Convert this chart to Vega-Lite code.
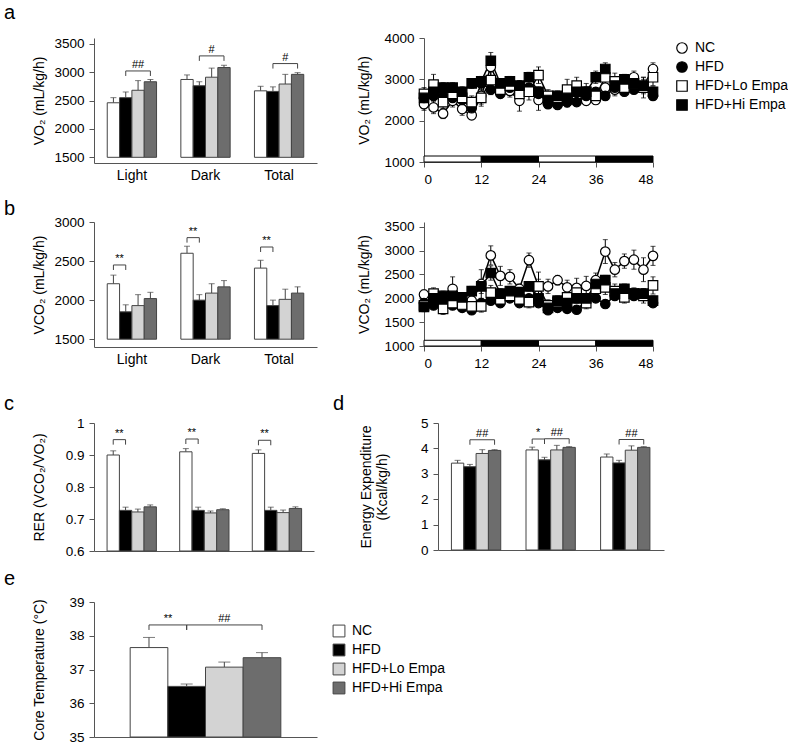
{
"$schema":"https://vega.github.io/schema/vega-lite/v6.json",
"padding":{"left":4,"top":3,"right":0,"bottom":0},
"config":{"font":"Liberation Sans","view":{"stroke":null},
"axis":{"grid":false,"domainColor":"#555","tickColor":"#555","labelColor":"#000","titleColor":"#000","labelFontSize":13.5,"titleFontSize":14,"titleFontWeight":"normal","tickSize":5,"labelPadding":5,"labelOverlap":false,"tickCount":12},
"text":{"color":"#000"},
"title":{"fontSize":20,"fontWeight":"normal","anchor":"start","frame":"bounds","color":"#000"}},
"resolve":{"scale":{"fill":"independent","shape":"independent","color":"independent","stroke":"independent"},"legend":{"fill":"independent","shape":"independent","color":"independent","stroke":"independent"}},
"datasets":{
"bars":[
{"p":"a","g":"Light","m":"NC","v":2460,"hi":2550},{"p":"a","g":"Light","m":"HFD","v":2550,"hi":2650},{"p":"a","g":"Light","m":"HFD+Lo Empa","v":2680,"hi":2850},{"p":"a","g":"Light","m":"HFD+Hi Empa","v":2830,"hi":2870},
{"p":"a","g":"Dark","m":"NC","v":2870,"hi":2950},{"p":"a","g":"Dark","m":"HFD","v":2760,"hi":2830},{"p":"a","g":"Dark","m":"HFD+Lo Empa","v":2910,"hi":3070},{"p":"a","g":"Dark","m":"HFD+Hi Empa","v":3080,"hi":3120},
{"p":"a","g":"Total","m":"NC","v":2670,"hi":2750},{"p":"a","g":"Total","m":"HFD","v":2660,"hi":2740},{"p":"a","g":"Total","m":"HFD+Lo Empa","v":2790,"hi":2960},{"p":"a","g":"Total","m":"HFD+Hi Empa","v":2960,"hi":2990},
{"p":"b","g":"Light","m":"NC","v":2210,"hi":2320},{"p":"b","g":"Light","m":"HFD","v":1850,"hi":1940},{"p":"b","g":"Light","m":"HFD+Lo Empa","v":1930,"hi":2070},{"p":"b","g":"Light","m":"HFD+Hi Empa","v":2020,"hi":2100},
{"p":"b","g":"Dark","m":"NC","v":2600,"hi":2690},{"p":"b","g":"Dark","m":"HFD","v":2000,"hi":2070},{"p":"b","g":"Dark","m":"HFD+Lo Empa","v":2090,"hi":2210},{"p":"b","g":"Dark","m":"HFD+Hi Empa","v":2170,"hi":2250},
{"p":"b","g":"Total","m":"NC","v":2410,"hi":2510},{"p":"b","g":"Total","m":"HFD","v":1930,"hi":2000},{"p":"b","g":"Total","m":"HFD+Lo Empa","v":2010,"hi":2140},{"p":"b","g":"Total","m":"HFD+Hi Empa","v":2090,"hi":2170},
{"p":"c","g":"Light","m":"NC","v":0.900,"hi":0.913},{"p":"c","g":"Light","m":"HFD","v":0.727,"hi":0.737},{"p":"c","g":"Light","m":"HFD+Lo Empa","v":0.722,"hi":0.731},{"p":"c","g":"Light","m":"HFD+Hi Empa","v":0.738,"hi":0.744},
{"p":"c","g":"Dark","m":"NC","v":0.910,"hi":0.920},{"p":"c","g":"Dark","m":"HFD","v":0.727,"hi":0.737},{"p":"c","g":"Dark","m":"HFD+Lo Empa","v":0.719,"hi":0.725},{"p":"c","g":"Dark","m":"HFD+Hi Empa","v":0.729,"hi":0.732},
{"p":"c","g":"Total","m":"NC","v":0.905,"hi":0.916},{"p":"c","g":"Total","m":"HFD","v":0.727,"hi":0.737},{"p":"c","g":"Total","m":"HFD+Lo Empa","v":0.720,"hi":0.728},{"p":"c","g":"Total","m":"HFD+Hi Empa","v":0.733,"hi":0.738},
{"p":"d","g":"Light","m":"NC","v":3.42,"hi":3.53},{"p":"d","g":"Light","m":"HFD","v":3.28,"hi":3.37},{"p":"d","g":"Light","m":"HFD+Lo Empa","v":3.80,"hi":3.95},{"p":"d","g":"Light","m":"HFD+Hi Empa","v":3.92,"hi":3.95},
{"p":"d","g":"Dark","m":"NC","v":3.94,"hi":4.05},{"p":"d","g":"Dark","m":"HFD","v":3.55,"hi":3.65},{"p":"d","g":"Dark","m":"HFD+Lo Empa","v":3.94,"hi":4.12},{"p":"d","g":"Dark","m":"HFD+Hi Empa","v":4.04,"hi":4.07},
{"p":"d","g":"Total","m":"NC","v":3.66,"hi":3.78},{"p":"d","g":"Total","m":"HFD","v":3.43,"hi":3.53},{"p":"d","g":"Total","m":"HFD+Lo Empa","v":3.93,"hi":4.10},{"p":"d","g":"Total","m":"HFD+Hi Empa","v":4.04,"hi":4.07}
],
"brk":[
{"p":"a","id":"a1","g":"Light","from":"HFD","to":"HFD+Hi Empa","y":3020,"label":"##"},
{"p":"a","id":"a2","g":"Dark","from":"HFD","to":"HFD+Hi Empa","y":3285,"label":"#"},
{"p":"a","id":"a3","g":"Total","from":"HFD","to":"HFD+Hi Empa","y":3150,"label":"#"},
{"p":"b","id":"b1","g":"Light","from":"NC","to":"HFD","y":2450,"label":"**"},
{"p":"b","id":"b2","g":"Dark","from":"NC","to":"HFD","y":2800,"label":"**"},
{"p":"b","id":"b3","g":"Total","from":"NC","to":"HFD","y":2680,"label":"**"},
{"p":"c","id":"c1","g":"Light","from":"NC","to":"HFD","y":0.948,"label":"**"},
{"p":"c","id":"c2","g":"Dark","from":"NC","to":"HFD","y":0.95,"label":"**"},
{"p":"c","id":"c3","g":"Total","from":"NC","to":"HFD","y":0.946,"label":"**"},
{"p":"d","id":"d1","g":"Light","from":"HFD","to":"HFD+Hi Empa","y":4.34,"label":"##"},
{"p":"d","id":"d2","g":"Dark","from":"NC","to":"HFD","y":4.37,"label":"*"},
{"p":"d","id":"d3","g":"Dark","from":"HFD","to":"HFD+Hi Empa","y":4.38,"label":"##"},
{"p":"d","id":"d4","g":"Total","from":"HFD","to":"HFD+Hi Empa","y":4.35,"label":"##"}
],
"ebars":[{"m":"NC","v":37.65,"hi":37.95},{"m":"HFD","v":36.5,"hi":36.57},{"m":"HFD+Lo Empa","v":37.07,"hi":37.22},{"m":"HFD+Hi Empa","v":37.35,"hi":37.5}],
"ebrk":[{"id":"e1","from":"NC","to":"HFD","y":38.32,"label":"**"},{"id":"e2","from":"HFD","to":"HFD+Hi Empa","y":38.32,"label":"##"}],
"strip":[{"start":0,"end":12,"ph":"L"},{"start":12,"end":24,"ph":"D"},{"start":24,"end":36,"ph":"L"},{"start":36,"end":48,"ph":"D"}],
"ts":[
{"p":"a","s":"NC","t":0,"v":2400,"e":150},{"p":"a","s":"NC","t":2,"v":2320,"e":150},{"p":"a","s":"NC","t":4,"v":2170,"e":120},{"p":"a","s":"NC","t":6,"v":2480,"e":150},{"p":"a","s":"NC","t":8,"v":2280,"e":150},{"p":"a","s":"NC","t":10,"v":2130,"e":100},{"p":"a","s":"NC","t":12,"v":2600,"e":200},{"p":"a","s":"NC","t":14,"v":3300,"e":250},{"p":"a","s":"NC","t":16,"v":2800,"e":150},{"p":"a","s":"NC","t":18,"v":2720,"e":150},{"p":"a","s":"NC","t":20,"v":2480,"e":250},{"p":"a","s":"NC","t":22,"v":2900,"e":150},{"p":"a","s":"NC","t":24,"v":2500,"e":250},{"p":"a","s":"NC","t":26,"v":2450,"e":100},{"p":"a","s":"NC","t":28,"v":2380,"e":100},{"p":"a","s":"NC","t":30,"v":2450,"e":120},{"p":"a","s":"NC","t":32,"v":2600,"e":150},{"p":"a","s":"NC","t":34,"v":2480,"e":100},{"p":"a","s":"NC","t":36,"v":2500,"e":100},{"p":"a","s":"NC","t":38,"v":2800,"e":200},{"p":"a","s":"NC","t":40,"v":2750,"e":150},{"p":"a","s":"NC","t":42,"v":2820,"e":150},{"p":"a","s":"NC","t":44,"v":3050,"e":150},{"p":"a","s":"NC","t":46,"v":2850,"e":200},{"p":"a","s":"NC","t":48,"v":3250,"e":150},
{"p":"a","s":"HFD","t":0,"v":2550,"e":100},{"p":"a","s":"HFD","t":2,"v":2600,"e":100},{"p":"a","s":"HFD","t":4,"v":2600,"e":100},{"p":"a","s":"HFD","t":6,"v":2550,"e":100},{"p":"a","s":"HFD","t":8,"v":2500,"e":100},{"p":"a","s":"HFD","t":10,"v":2300,"e":100},{"p":"a","s":"HFD","t":12,"v":2900,"e":100},{"p":"a","s":"HFD","t":14,"v":2750,"e":120},{"p":"a","s":"HFD","t":16,"v":2650,"e":100},{"p":"a","s":"HFD","t":18,"v":2800,"e":100},{"p":"a","s":"HFD","t":20,"v":2850,"e":100},{"p":"a","s":"HFD","t":22,"v":2800,"e":100},{"p":"a","s":"HFD","t":24,"v":2650,"e":100},{"p":"a","s":"HFD","t":26,"v":2400,"e":100},{"p":"a","s":"HFD","t":28,"v":2400,"e":100},{"p":"a","s":"HFD","t":30,"v":2450,"e":100},{"p":"a","s":"HFD","t":32,"v":2450,"e":100},{"p":"a","s":"HFD","t":34,"v":2600,"e":100},{"p":"a","s":"HFD","t":36,"v":2700,"e":100},{"p":"a","s":"HFD","t":38,"v":2600,"e":100},{"p":"a","s":"HFD","t":40,"v":2800,"e":100},{"p":"a","s":"HFD","t":42,"v":2700,"e":100},{"p":"a","s":"HFD","t":44,"v":2750,"e":100},{"p":"a","s":"HFD","t":46,"v":2800,"e":100},{"p":"a","s":"HFD","t":48,"v":2600,"e":100},
{"p":"a","s":"HFD+Lo Empa","t":0,"v":2650,"e":150},{"p":"a","s":"HFD+Lo Empa","t":2,"v":2870,"e":250},{"p":"a","s":"HFD+Lo Empa","t":4,"v":2450,"e":150},{"p":"a","s":"HFD+Lo Empa","t":6,"v":2650,"e":150},{"p":"a","s":"HFD+Lo Empa","t":8,"v":2550,"e":150},{"p":"a","s":"HFD+Lo Empa","t":10,"v":2450,"e":150},{"p":"a","s":"HFD+Lo Empa","t":12,"v":2550,"e":200},{"p":"a","s":"HFD+Lo Empa","t":14,"v":2980,"e":200},{"p":"a","s":"HFD+Lo Empa","t":16,"v":2750,"e":150},{"p":"a","s":"HFD+Lo Empa","t":18,"v":2850,"e":150},{"p":"a","s":"HFD+Lo Empa","t":20,"v":2650,"e":150},{"p":"a","s":"HFD+Lo Empa","t":22,"v":2700,"e":200},{"p":"a","s":"HFD+Lo Empa","t":24,"v":3100,"e":200},{"p":"a","s":"HFD+Lo Empa","t":26,"v":2600,"e":150},{"p":"a","s":"HFD+Lo Empa","t":28,"v":2550,"e":150},{"p":"a","s":"HFD+Lo Empa","t":30,"v":2750,"e":250},{"p":"a","s":"HFD+Lo Empa","t":32,"v":2850,"e":200},{"p":"a","s":"HFD+Lo Empa","t":34,"v":2700,"e":200},{"p":"a","s":"HFD+Lo Empa","t":36,"v":2600,"e":150},{"p":"a","s":"HFD+Lo Empa","t":38,"v":3050,"e":200},{"p":"a","s":"HFD+Lo Empa","t":40,"v":2950,"e":200},{"p":"a","s":"HFD+Lo Empa","t":42,"v":2800,"e":150},{"p":"a","s":"HFD+Lo Empa","t":44,"v":2900,"e":200},{"p":"a","s":"HFD+Lo Empa","t":46,"v":2800,"e":250},{"p":"a","s":"HFD+Lo Empa","t":48,"v":3050,"e":200},
{"p":"a","s":"HFD+Hi Empa","t":0,"v":2550,"e":120},{"p":"a","s":"HFD+Hi Empa","t":2,"v":2700,"e":120},{"p":"a","s":"HFD+Hi Empa","t":4,"v":2800,"e":120},{"p":"a","s":"HFD+Hi Empa","t":6,"v":2800,"e":120},{"p":"a","s":"HFD+Hi Empa","t":8,"v":2700,"e":120},{"p":"a","s":"HFD+Hi Empa","t":10,"v":2900,"e":120},{"p":"a","s":"HFD+Hi Empa","t":12,"v":2950,"e":120},{"p":"a","s":"HFD+Hi Empa","t":14,"v":3450,"e":200},{"p":"a","s":"HFD+Hi Empa","t":16,"v":2900,"e":120},{"p":"a","s":"HFD+Hi Empa","t":18,"v":2950,"e":120},{"p":"a","s":"HFD+Hi Empa","t":20,"v":2850,"e":120},{"p":"a","s":"HFD+Hi Empa","t":22,"v":3050,"e":120},{"p":"a","s":"HFD+Hi Empa","t":24,"v":2700,"e":120},{"p":"a","s":"HFD+Hi Empa","t":26,"v":2500,"e":120},{"p":"a","s":"HFD+Hi Empa","t":28,"v":2600,"e":120},{"p":"a","s":"HFD+Hi Empa","t":30,"v":2550,"e":120},{"p":"a","s":"HFD+Hi Empa","t":32,"v":2700,"e":120},{"p":"a","s":"HFD+Hi Empa","t":34,"v":2700,"e":120},{"p":"a","s":"HFD+Hi Empa","t":36,"v":3050,"e":150},{"p":"a","s":"HFD+Hi Empa","t":38,"v":3250,"e":150},{"p":"a","s":"HFD+Hi Empa","t":40,"v":2850,"e":120},{"p":"a","s":"HFD+Hi Empa","t":42,"v":3000,"e":120},{"p":"a","s":"HFD+Hi Empa","t":44,"v":2900,"e":120},{"p":"a","s":"HFD+Hi Empa","t":46,"v":2850,"e":150},{"p":"a","s":"HFD+Hi Empa","t":48,"v":2700,"e":120},
{"p":"b","s":"NC","t":0,"v":2080,"e":100},{"p":"b","s":"NC","t":2,"v":2000,"e":150},{"p":"b","s":"NC","t":4,"v":1920,"e":100},{"p":"b","s":"NC","t":6,"v":2200,"e":250},{"p":"b","s":"NC","t":8,"v":1900,"e":150},{"p":"b","s":"NC","t":10,"v":1950,"e":150},{"p":"b","s":"NC","t":12,"v":2300,"e":300},{"p":"b","s":"NC","t":14,"v":2900,"e":200},{"p":"b","s":"NC","t":16,"v":2470,"e":200},{"p":"b","s":"NC","t":18,"v":2450,"e":150},{"p":"b","s":"NC","t":20,"v":2200,"e":100},{"p":"b","s":"NC","t":22,"v":2800,"e":150},{"p":"b","s":"NC","t":24,"v":2250,"e":300},{"p":"b","s":"NC","t":26,"v":2250,"e":150},{"p":"b","s":"NC","t":28,"v":2380,"e":100},{"p":"b","s":"NC","t":30,"v":2230,"e":150},{"p":"b","s":"NC","t":32,"v":2220,"e":200},{"p":"b","s":"NC","t":34,"v":2260,"e":200},{"p":"b","s":"NC","t":36,"v":2380,"e":150},{"p":"b","s":"NC","t":38,"v":2980,"e":250},{"p":"b","s":"NC","t":40,"v":2600,"e":150},{"p":"b","s":"NC","t":42,"v":2780,"e":150},{"p":"b","s":"NC","t":44,"v":2810,"e":200},{"p":"b","s":"NC","t":46,"v":2600,"e":250},{"p":"b","s":"NC","t":48,"v":2890,"e":200},
{"p":"b","s":"HFD","t":0,"v":1900,"e":80},{"p":"b","s":"HFD","t":2,"v":1850,"e":80},{"p":"b","s":"HFD","t":4,"v":1900,"e":80},{"p":"b","s":"HFD","t":6,"v":1850,"e":80},{"p":"b","s":"HFD","t":8,"v":1800,"e":80},{"p":"b","s":"HFD","t":10,"v":1750,"e":80},{"p":"b","s":"HFD","t":12,"v":1900,"e":80},{"p":"b","s":"HFD","t":14,"v":1950,"e":80},{"p":"b","s":"HFD","t":16,"v":1900,"e":80},{"p":"b","s":"HFD","t":18,"v":2000,"e":80},{"p":"b","s":"HFD","t":20,"v":1900,"e":80},{"p":"b","s":"HFD","t":22,"v":2000,"e":80},{"p":"b","s":"HFD","t":24,"v":1900,"e":80},{"p":"b","s":"HFD","t":26,"v":1750,"e":80},{"p":"b","s":"HFD","t":28,"v":1800,"e":80},{"p":"b","s":"HFD","t":30,"v":1780,"e":80},{"p":"b","s":"HFD","t":32,"v":1760,"e":80},{"p":"b","s":"HFD","t":34,"v":1950,"e":80},{"p":"b","s":"HFD","t":36,"v":2000,"e":80},{"p":"b","s":"HFD","t":38,"v":1880,"e":80},{"p":"b","s":"HFD","t":40,"v":2050,"e":80},{"p":"b","s":"HFD","t":42,"v":2100,"e":80},{"p":"b","s":"HFD","t":44,"v":2050,"e":80},{"p":"b","s":"HFD","t":46,"v":2050,"e":80},{"p":"b","s":"HFD","t":48,"v":1900,"e":80},
{"p":"b","s":"HFD+Lo Empa","t":0,"v":1850,"e":120},{"p":"b","s":"HFD+Lo Empa","t":2,"v":2100,"e":120},{"p":"b","s":"HFD+Lo Empa","t":4,"v":1780,"e":120},{"p":"b","s":"HFD+Lo Empa","t":6,"v":1900,"e":120},{"p":"b","s":"HFD+Lo Empa","t":8,"v":1870,"e":120},{"p":"b","s":"HFD+Lo Empa","t":10,"v":1830,"e":120},{"p":"b","s":"HFD+Lo Empa","t":12,"v":1830,"e":120},{"p":"b","s":"HFD+Lo Empa","t":14,"v":2120,"e":150},{"p":"b","s":"HFD+Lo Empa","t":16,"v":1980,"e":120},{"p":"b","s":"HFD+Lo Empa","t":18,"v":2050,"e":120},{"p":"b","s":"HFD+Lo Empa","t":20,"v":1980,"e":120},{"p":"b","s":"HFD+Lo Empa","t":22,"v":1920,"e":120},{"p":"b","s":"HFD+Lo Empa","t":24,"v":2250,"e":150},{"p":"b","s":"HFD+Lo Empa","t":26,"v":1850,"e":120},{"p":"b","s":"HFD+Lo Empa","t":28,"v":1920,"e":120},{"p":"b","s":"HFD+Lo Empa","t":30,"v":2020,"e":120},{"p":"b","s":"HFD+Lo Empa","t":32,"v":2120,"e":120},{"p":"b","s":"HFD+Lo Empa","t":34,"v":1900,"e":120},{"p":"b","s":"HFD+Lo Empa","t":36,"v":2200,"e":120},{"p":"b","s":"HFD+Lo Empa","t":38,"v":2230,"e":150},{"p":"b","s":"HFD+Lo Empa","t":40,"v":2150,"e":150},{"p":"b","s":"HFD+Lo Empa","t":42,"v":2020,"e":120},{"p":"b","s":"HFD+Lo Empa","t":44,"v":2100,"e":120},{"p":"b","s":"HFD+Lo Empa","t":46,"v":2050,"e":150},{"p":"b","s":"HFD+Lo Empa","t":48,"v":2270,"e":180},
{"p":"b","s":"HFD+Hi Empa","t":0,"v":1820,"e":100},{"p":"b","s":"HFD+Hi Empa","t":2,"v":2000,"e":100},{"p":"b","s":"HFD+Hi Empa","t":4,"v":2050,"e":100},{"p":"b","s":"HFD+Hi Empa","t":6,"v":2050,"e":100},{"p":"b","s":"HFD+Hi Empa","t":8,"v":2020,"e":100},{"p":"b","s":"HFD+Hi Empa","t":10,"v":2150,"e":100},{"p":"b","s":"HFD+Hi Empa","t":12,"v":2250,"e":150},{"p":"b","s":"HFD+Hi Empa","t":14,"v":2530,"e":150},{"p":"b","s":"HFD+Hi Empa","t":16,"v":2100,"e":100},{"p":"b","s":"HFD+Hi Empa","t":18,"v":2150,"e":100},{"p":"b","s":"HFD+Hi Empa","t":20,"v":2130,"e":100},{"p":"b","s":"HFD+Hi Empa","t":22,"v":2250,"e":100},{"p":"b","s":"HFD+Hi Empa","t":24,"v":2000,"e":100},{"p":"b","s":"HFD+Hi Empa","t":26,"v":1800,"e":100},{"p":"b","s":"HFD+Hi Empa","t":28,"v":1950,"e":100},{"p":"b","s":"HFD+Hi Empa","t":30,"v":1900,"e":100},{"p":"b","s":"HFD+Hi Empa","t":32,"v":2000,"e":100},{"p":"b","s":"HFD+Hi Empa","t":34,"v":2000,"e":100},{"p":"b","s":"HFD+Hi Empa","t":36,"v":2300,"e":100},{"p":"b","s":"HFD+Hi Empa","t":38,"v":2380,"e":100},{"p":"b","s":"HFD+Hi Empa","t":40,"v":2100,"e":100},{"p":"b","s":"HFD+Hi Empa","t":42,"v":2200,"e":100},{"p":"b","s":"HFD+Hi Empa","t":44,"v":2100,"e":100},{"p":"b","s":"HFD+Hi Empa","t":46,"v":2100,"e":100},{"p":"b","s":"HFD+Hi Empa","t":48,"v":1950,"e":100}
]},
"vconcat":[
{"resolve":{"scale":{"fill":"independent","shape":"independent","color":"independent","stroke":"independent"},"legend":{"fill":"independent","shape":"independent","color":"independent","stroke":"independent"}},
"vconcat":[
{"resolve":{"scale":{"fill":"independent","shape":"independent","color":"independent","stroke":"independent"},"legend":{"fill":"independent","shape":"independent","color":"independent","stroke":"independent"}},
"title":{"text":"a","offset":8,"dx":-28},"hconcat":[
{"width":223,"height":125,
"encoding":{"x":{"field":"g","type":"nominal","scale":{"domain":["Light","Dark","Total"],"paddingInner":0.33,"paddingOuter":0.18},"axis":{"title":null,"ticks":false,"labelAngle":0,"labelFontSize":14,"labelPadding":5}},
"xOffset":{"field":"m","type":"nominal","scale":{"domain":["NC","HFD","HFD+Lo Empa","HFD+Hi Empa"],"paddingInner":0,"paddingOuter":0}}},
"layer":[
{"data":{"name":"bars"},"transform":[{"filter":"datum.p==='a'"}],"mark":{"type":"rule","color":"#444"},"encoding":{"y":{"field":"v","type":"quantitative","scale":{"domain":[1500,3500],"zero":false},"axis":{"values":[1500,2000,2500,3000,3500],"tickCount":12,"format":"d","title":"VO₂ (mL/kg/h)","minExtent":42,"titlePadding":6,"labelOverlap":false}},"y2":{"field":"hi"}}},
{"data":{"name":"bars"},"transform":[{"filter":"datum.p==='a'"}],"mark":{"type":"tick","size":6,"thickness":1,"color":"#444"},"encoding":{"y":{"field":"hi","type":"quantitative"}}},
{"data":{"name":"bars"},"transform":[{"filter":"datum.p==='a'"}],"mark":{"type":"bar","stroke":"#444","strokeWidth":1},"encoding":{"y":{"field":"v","type":"quantitative"},"y2":{"datum":1500},"fill":{"field":"m","type":"nominal","scale":{"domain":["NC","HFD","HFD+Lo Empa","HFD+Hi Empa"],"range":["#ffffff","#000000","#d3d3d3","#6d6d6d"]},"legend":null}}},
{"data":{"name":"brk"},"transform":[{"filter":"datum.p==='a'"},{"fold":["from","to"],"as":["end","m"]}],"mark":{"type":"line","color":"#444","strokeWidth":1},"encoding":{"y":{"field":"y","type":"quantitative"},"detail":{"field":"id"}}},
{"data":{"name":"brk"},"transform":[{"filter":"datum.p==='a'"},{"fold":["from","to"],"as":["end","m"]}],"mark":{"type":"point","shape":"M0,0L0,1","size":100,"stroke":"#444","strokeWidth":1,"filled":false,"opacity":1},"encoding":{"y":{"field":"y","type":"quantitative"}}},
{"data":{"name":"brk"},"transform":[{"filter":"datum.p==='a' && datum.to!=='HFD'"}],"mark":{"type":"text","baseline":"bottom","dy":-1,"fontSize":11,"color":"#000"},"encoding":{"xOffset":{"datum":"HFD+Lo Empa"},"y":{"field":"y","type":"quantitative"},"text":{"field":"label"}}}
]},
{"width":229,"height":124,
"layer":[
{"data":{"name":"strip"},"mark":{"type":"rect","stroke":"#000","strokeWidth":1},"encoding":{"x":{"field":"start","type":"quantitative","scale":{"domain":[0,48],"nice":false},"axis":{"values":[0,12,24,36,48],"tickCount":12,"title":null}},"x2":{"field":"end"},"y":{"datum":1000,"type":"quantitative","scale":{"domain":[1000,4000]},"axis":{"values":[1000,2000,3000,4000],"tickCount":12,"format":"d","title":"VO₂ (mL/kg/h)","minExtent":42,"titlePadding":11,"labelOverlap":false}},"y2":{"datum":1145},"color":{"field":"ph","type":"nominal","scale":{"domain":["L","D"],"range":["#ffffff","#000000"]},"legend":null}}},
{"data":{"name":"ts"},"transform":[{"filter":"datum.p==='a'"}],"mark":{"type":"errorbar","ticks":true,"color":"#000"},"encoding":{"x":{"field":"t","type":"quantitative"},"y":{"field":"v","type":"quantitative","axis":{"title":"VO₂ (mL/kg/h)"}},"yError":{"field":"e"}}},
{"data":{"name":"ts"},"transform":[{"filter":"datum.p==='a'"}],"mark":{"type":"line","color":"#000","strokeWidth":1.5},"encoding":{"x":{"field":"t","type":"quantitative"},"y":{"field":"v","type":"quantitative"},"detail":{"field":"s"}}},
{"data":{"name":"ts"},"transform":[{"filter":"datum.p==='a'"}],"mark":{"type":"point","filled":true,"strokeWidth":1.2,"opacity":1,"size":90},"encoding":{"x":{"field":"t","type":"quantitative"},"y":{"field":"v","type":"quantitative"},
"shape":{"field":"s","type":"nominal","scale":{"domain":["NC","HFD","HFD+Lo Empa","HFD+Hi Empa"],"range":["circle","circle","square","square"]},"legend":{"title":null,"orient":"none","legendX":251,"legendY":3,"labelFontSize":14,"symbolSize":110,"symbolStrokeWidth":1.2,"rowPadding":3,"labelOffset":6}},
"fill":{"field":"s","type":"nominal","scale":{"domain":["NC","HFD","HFD+Lo Empa","HFD+Hi Empa"],"range":["#ffffff","#000000","#ffffff","#000000"]},"legend":{"title":null,"orient":"none","legendX":251,"legendY":3,"labelFontSize":14,"symbolSize":110,"symbolStrokeWidth":1.2,"rowPadding":3,"labelOffset":6}},
"stroke":{"field":"s","type":"nominal","scale":{"domain":["NC","HFD","HFD+Lo Empa","HFD+Hi Empa"],"range":["#000000","#000000","#000000","#000000"]},"legend":{"title":null,"orient":"none","legendX":251,"legendY":3,"labelFontSize":14,"symbolSize":110,"symbolStrokeWidth":1.2,"rowPadding":3,"labelOffset":6}}}}
]}
],"spacing":40},
{"resolve":{"scale":{"fill":"independent","shape":"independent","color":"independent","stroke":"independent"},"legend":{"fill":"independent","shape":"independent","color":"independent","stroke":"independent"}},
"title":{"text":"b","offset":-4,"dx":-28},"hconcat":[
{"width":223,"height":125,
"encoding":{"x":{"field":"g","type":"nominal","scale":{"domain":["Light","Dark","Total"],"paddingInner":0.33,"paddingOuter":0.18},"axis":{"title":null,"ticks":false,"labelAngle":0,"labelFontSize":14,"labelPadding":5}},
"xOffset":{"field":"m","type":"nominal","scale":{"domain":["NC","HFD","HFD+Lo Empa","HFD+Hi Empa"],"paddingInner":0,"paddingOuter":0}}},
"layer":[
{"data":{"name":"bars"},"transform":[{"filter":"datum.p==='b'"}],"mark":{"type":"rule","color":"#444"},"encoding":{"y":{"field":"v","type":"quantitative","scale":{"domain":[1500,3000],"zero":false},"axis":{"values":[1500,2000,2500,3000],"tickCount":12,"format":"d","title":"VCO₂ (mL/kg/h)","minExtent":42,"titlePadding":6,"labelOverlap":false}},"y2":{"field":"hi"}}},
{"data":{"name":"bars"},"transform":[{"filter":"datum.p==='b'"}],"mark":{"type":"tick","size":6,"thickness":1,"color":"#444"},"encoding":{"y":{"field":"hi","type":"quantitative"}}},
{"data":{"name":"bars"},"transform":[{"filter":"datum.p==='b'"}],"mark":{"type":"bar","stroke":"#444","strokeWidth":1},"encoding":{"y":{"field":"v","type":"quantitative"},"y2":{"datum":1500},"fill":{"field":"m","type":"nominal","scale":{"domain":["NC","HFD","HFD+Lo Empa","HFD+Hi Empa"],"range":["#ffffff","#000000","#d3d3d3","#6d6d6d"]},"legend":null}}},
{"data":{"name":"brk"},"transform":[{"filter":"datum.p==='b'"},{"fold":["from","to"],"as":["end","m"]}],"mark":{"type":"line","color":"#444","strokeWidth":1},"encoding":{"y":{"field":"y","type":"quantitative"},"detail":{"field":"id"}}},
{"data":{"name":"brk"},"transform":[{"filter":"datum.p==='b'"},{"fold":["from","to"],"as":["end","m"]}],"mark":{"type":"point","shape":"M0,0L0,1","size":100,"stroke":"#444","strokeWidth":1,"filled":false,"opacity":1},"encoding":{"y":{"field":"y","type":"quantitative"}}},
{"data":{"name":"brk"},"transform":[{"filter":"datum.p==='b' && datum.to==='HFD'"}],"mark":{"type":"text","baseline":"bottom","dy":-1,"dx":6,"fontSize":11,"color":"#000"},"encoding":{"xOffset":{"datum":"NC"},"y":{"field":"y","type":"quantitative"},"text":{"field":"label"}}}
]},
{"width":229,"height":124,
"layer":[
{"data":{"name":"strip"},"mark":{"type":"rect","stroke":"#000","strokeWidth":1},"encoding":{"x":{"field":"start","type":"quantitative","scale":{"domain":[0,48],"nice":false},"axis":{"values":[0,12,24,36,48],"tickCount":12,"title":null}},"x2":{"field":"end"},"y":{"datum":1000,"type":"quantitative","scale":{"domain":[1000,3500]},"axis":{"values":[1000,1500,2000,2500,3000,3500],"tickCount":12,"format":"d","title":"VCO₂ (mL/kg/h)","minExtent":42,"titlePadding":11,"labelOverlap":false}},"y2":{"datum":1120},"color":{"field":"ph","type":"nominal","scale":{"domain":["L","D"],"range":["#ffffff","#000000"]},"legend":null}}},
{"data":{"name":"ts"},"transform":[{"filter":"datum.p==='b'"}],"mark":{"type":"errorbar","ticks":true,"color":"#000"},"encoding":{"x":{"field":"t","type":"quantitative"},"y":{"field":"v","type":"quantitative","axis":{"title":"VCO₂ (mL/kg/h)"}},"yError":{"field":"e"}}},
{"data":{"name":"ts"},"transform":[{"filter":"datum.p==='b'"}],"mark":{"type":"line","color":"#000","strokeWidth":1.5},"encoding":{"x":{"field":"t","type":"quantitative"},"y":{"field":"v","type":"quantitative"},"detail":{"field":"s"}}},
{"data":{"name":"ts"},"transform":[{"filter":"datum.p==='b'"}],"mark":{"type":"point","filled":true,"stroke":"#000","strokeWidth":1.2,"opacity":1,"size":90},"encoding":{"x":{"field":"t","type":"quantitative"},"y":{"field":"v","type":"quantitative"},
"shape":{"field":"s","type":"nominal","scale":{"domain":["NC","HFD","HFD+Lo Empa","HFD+Hi Empa"],"range":["circle","circle","square","square"]},"legend":null},
"fill":{"field":"s","type":"nominal","scale":{"domain":["NC","HFD","HFD+Lo Empa","HFD+Hi Empa"],"range":["#ffffff","#000000","#ffffff","#000000"]},"legend":null}}}
]}
],"spacing":40}
],"spacing":13},
{"resolve":{"scale":{"fill":"independent","shape":"independent","color":"independent","stroke":"independent"},"legend":{"fill":"independent","shape":"independent","color":"independent","stroke":"independent"}},
"vconcat":[
{"resolve":{"scale":{"fill":"independent","shape":"independent","color":"independent","stroke":"independent"},"legend":{"fill":"independent","shape":"independent","color":"independent","stroke":"independent"}},
"hconcat":[
{"title":{"text":"c","offset":2,"dx":-28},"width":220,"height":128,
"encoding":{"x":{"field":"g","type":"nominal","scale":{"domain":["Light","Dark","Total"],"paddingInner":0.33,"paddingOuter":0.18},"axis":{"title":null,"ticks":false,"labels":false}},
"xOffset":{"field":"m","type":"nominal","scale":{"domain":["NC","HFD","HFD+Lo Empa","HFD+Hi Empa"],"paddingInner":0,"paddingOuter":0}}},
"layer":[
{"data":{"name":"bars"},"transform":[{"filter":"datum.p==='c'"}],"mark":{"type":"rule","color":"#444"},"encoding":{"y":{"field":"v","type":"quantitative","scale":{"domain":[0.6,1],"zero":false},"axis":{"values":[0.6,0.7,0.8,0.9,1],"tickCount":12,"format":".1~f","title":"RER (VCO₂/VO₂)","minExtent":42,"titlePadding":6,"labelOverlap":false}},"y2":{"field":"hi"}}},
{"data":{"name":"bars"},"transform":[{"filter":"datum.p==='c'"}],"mark":{"type":"tick","size":6,"thickness":1,"color":"#444"},"encoding":{"y":{"field":"hi","type":"quantitative"}}},
{"data":{"name":"bars"},"transform":[{"filter":"datum.p==='c'"}],"mark":{"type":"bar","stroke":"#444","strokeWidth":1},"encoding":{"y":{"field":"v","type":"quantitative"},"y2":{"datum":0.6},"fill":{"field":"m","type":"nominal","scale":{"domain":["NC","HFD","HFD+Lo Empa","HFD+Hi Empa"],"range":["#ffffff","#000000","#d3d3d3","#6d6d6d"]},"legend":null}}},
{"data":{"name":"brk"},"transform":[{"filter":"datum.p==='c'"},{"fold":["from","to"],"as":["end","m"]}],"mark":{"type":"line","color":"#444","strokeWidth":1},"encoding":{"y":{"field":"y","type":"quantitative"},"detail":{"field":"id"}}},
{"data":{"name":"brk"},"transform":[{"filter":"datum.p==='c'"},{"fold":["from","to"],"as":["end","m"]}],"mark":{"type":"point","shape":"M0,0L0,1","size":100,"stroke":"#444","strokeWidth":1,"filled":false,"opacity":1},"encoding":{"y":{"field":"y","type":"quantitative"}}},
{"data":{"name":"brk"},"transform":[{"filter":"datum.p==='c' && datum.to==='HFD'"}],"mark":{"type":"text","baseline":"bottom","dy":-1,"dx":6,"fontSize":11,"color":"#000"},"encoding":{"xOffset":{"datum":"NC"},"y":{"field":"y","type":"quantitative"},"text":{"field":"label"}}}
]},
{"title":{"text":"d","offset":2,"dx":-26},"width":226,"height":127,
"encoding":{"x":{"field":"g","type":"nominal","scale":{"domain":["Light","Dark","Total"],"paddingInner":0.33,"paddingOuter":0.18},"axis":{"title":null,"ticks":false,"labels":false}},
"xOffset":{"field":"m","type":"nominal","scale":{"domain":["NC","HFD","HFD+Lo Empa","HFD+Hi Empa"],"paddingInner":0,"paddingOuter":0}}},
"layer":[
{"data":{"name":"bars"},"transform":[{"filter":"datum.p==='d'"}],"mark":{"type":"rule","color":"#444"},"encoding":{"y":{"field":"v","type":"quantitative","scale":{"domain":[0,5]},"axis":{"values":[0,1,2,3,4,5],"tickCount":12,"format":"d","title":["Energy Expenditure","(Kcal/kg/h)"],"titleLineHeight":16,"minExtent":30,"titlePadding":19,"labelOverlap":false}},"y2":{"field":"hi"}}},
{"data":{"name":"bars"},"transform":[{"filter":"datum.p==='d'"}],"mark":{"type":"tick","size":6,"thickness":1,"color":"#444"},"encoding":{"y":{"field":"hi","type":"quantitative"}}},
{"data":{"name":"bars"},"transform":[{"filter":"datum.p==='d'"}],"mark":{"type":"bar","stroke":"#444","strokeWidth":1},"encoding":{"y":{"field":"v","type":"quantitative"},"fill":{"field":"m","type":"nominal","scale":{"domain":["NC","HFD","HFD+Lo Empa","HFD+Hi Empa"],"range":["#ffffff","#000000","#d3d3d3","#6d6d6d"]},"legend":null}}},
{"data":{"name":"brk"},"transform":[{"filter":"datum.p==='d'"},{"fold":["from","to"],"as":["end","m"]}],"mark":{"type":"line","color":"#444","strokeWidth":1},"encoding":{"y":{"field":"y","type":"quantitative"},"detail":{"field":"id"}}},
{"data":{"name":"brk"},"transform":[{"filter":"datum.p==='d'"},{"fold":["from","to"],"as":["end","m"]}],"mark":{"type":"point","shape":"M0,0L0,1","size":100,"stroke":"#444","strokeWidth":1,"filled":false,"opacity":1},"encoding":{"y":{"field":"y","type":"quantitative"}}},
{"data":{"name":"brk"},"transform":[{"filter":"datum.p==='d' && datum.to==='HFD'"}],"mark":{"type":"text","baseline":"bottom","dy":-1,"dx":6,"fontSize":11,"color":"#000"},"encoding":{"xOffset":{"datum":"NC"},"y":{"field":"y","type":"quantitative"},"text":{"field":"label"}}},
{"data":{"name":"brk"},"transform":[{"filter":"datum.p==='d' && datum.to!=='HFD'"}],"mark":{"type":"text","baseline":"bottom","dy":-1,"fontSize":11,"color":"#000"},"encoding":{"xOffset":{"datum":"HFD+Lo Empa"},"y":{"field":"y","type":"quantitative"},"text":{"field":"label"}}}
]}
],"spacing":19},
{"title":{"text":"e","offset":6,"dx":-28},"width":223,"height":135,
"encoding":{"x":{"field":"m","type":"nominal","scale":{"domain":["NC","HFD","HFD+Lo Empa","HFD+Hi Empa"],"paddingInner":0,"paddingOuter":0.96},"axis":{"title":null,"ticks":false,"labels":false}}},
"layer":[
{"data":{"name":"ebars"},"mark":{"type":"rule","color":"#444"},"encoding":{"y":{"field":"v","type":"quantitative","scale":{"domain":[35,39],"zero":false},"axis":{"values":[35,36,37,38,39],"tickCount":12,"format":"d","title":"Core Temperature (°C)","minExtent":42,"titlePadding":6,"labelOverlap":false}},"y2":{"field":"hi"}}},
{"data":{"name":"ebars"},"mark":{"type":"tick","size":12,"thickness":1,"color":"#444"},"encoding":{"y":{"field":"hi","type":"quantitative"}}},
{"data":{"name":"ebars"},"mark":{"type":"bar","stroke":"#444","strokeWidth":1},"encoding":{"y":{"field":"v","type":"quantitative"},"y2":{"datum":35},"fill":{"field":"m","type":"nominal","scale":{"domain":["NC","HFD","HFD+Lo Empa","HFD+Hi Empa"],"range":["#ffffff","#000000","#d3d3d3","#6d6d6d"]},"legend":{"title":null,"orient":"none","legendX":238,"legendY":22,"labelFontSize":14,"symbolType":"square","symbolSize":140,"symbolStrokeColor":"#444","symbolStrokeWidth":1,"rowPadding":3,"labelOffset":6}}}},
{"data":{"name":"ebrk"},"transform":[{"fold":["from","to"],"as":["end","m"]}],"mark":{"type":"line","color":"#444","strokeWidth":1},"encoding":{"y":{"field":"y","type":"quantitative"},"detail":{"field":"id"}}},
{"data":{"name":"ebrk"},"transform":[{"fold":["from","to"],"as":["end","m"]}],"mark":{"type":"point","shape":"M0,0L0,1","size":100,"stroke":"#444","strokeWidth":1,"filled":false,"opacity":1},"encoding":{"y":{"field":"y","type":"quantitative"}}},
{"data":{"name":"ebrk"},"transform":[{"filter":"datum.to==='HFD'"}],"mark":{"type":"text","baseline":"bottom","dy":-1,"dx":19,"fontSize":11,"color":"#000"},"encoding":{"x":{"datum":"NC"},"y":{"field":"y","type":"quantitative"},"text":{"field":"label"}}},
{"data":{"name":"ebrk"},"transform":[{"filter":"datum.to!=='HFD'"}],"mark":{"type":"text","baseline":"bottom","dy":-1,"fontSize":11,"color":"#000"},"encoding":{"x":{"datum":"HFD+Lo Empa"},"y":{"field":"y","type":"quantitative"},"text":{"field":"label"}}}
]}
],"spacing":11}
],"spacing":24}
